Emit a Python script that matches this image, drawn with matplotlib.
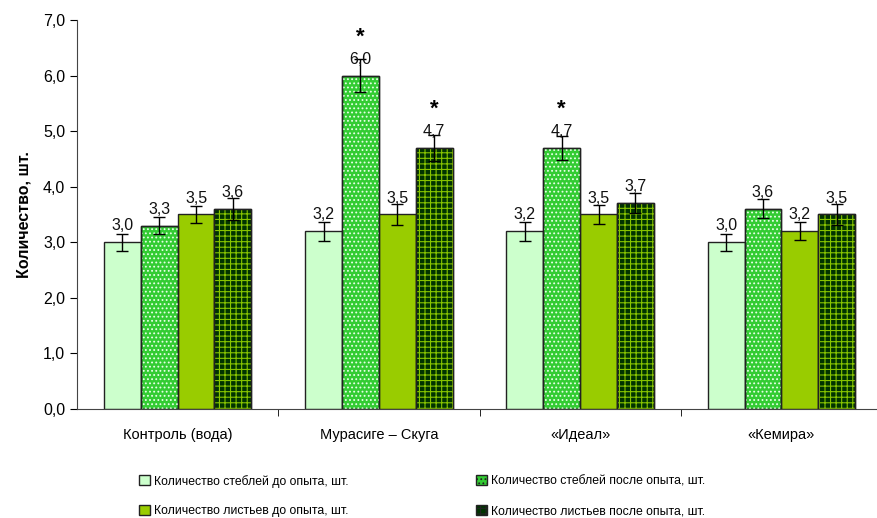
import matplotlib
matplotlib.use('Agg')
import matplotlib.pyplot as plt
import matplotlib.patches as mpatches
import numpy as np

plt.rcParams['font.family'] = ['Liberation Sans', 'DejaVu Sans']
plt.rcParams['hatch.linewidth'] = 0.8

groups = ['Контроль (вода)', 'Мурасиге – Скуга', '«Идеал»', '«Кемира»']
series = ['Количество стеблей до опыта, шт.',
          'Количество стеблей после опыта, шт.',
          'Количество листьев до опыта, шт.',
          'Количество листьев после опыта, шт.']

stems_before = [3.0, 3.2, 3.2, 3.0]
stems_after = [3.3, 6.0, 4.7, 3.6]
leaves_before = [3.5, 3.5, 3.5, 3.2]
leaves_after = [3.6, 4.7, 3.7, 3.5]

err_stems_before = [0.15, 0.17, 0.17, 0.15]
err_stems_after = [0.15, 0.30, 0.22, 0.17]
err_leaves_before = [0.15, 0.18, 0.17, 0.16]
err_leaves_after = [0.20, 0.23, 0.18, 0.18]

# significant differences, marked with an asterisk: (series index, group index)
starred = [(1, 1), (3, 1), (1, 2)]

values = [stems_before, stems_after, leaves_before, leaves_after]
errors = [err_stems_before, err_stems_after, err_leaves_before, err_leaves_after]
faces = ['#CCFFCC', '#33CC33', '#99CC00', '#003300']
hatches = [None, '....', None, '+++']
hatch_cols = [None, '#E8FFE8', None, '#88C400']

fig = plt.figure(figsize=(8.77, 5.18), dpi=100)
ax = fig.add_axes([77 / 877, 109 / 518, 805 / 877, 389 / 518])

x = np.arange(len(groups))
w = 0.183
for i, (vals, errs) in enumerate(zip(values, errors)):
    pos = x + (i - 1.5) * w
    ax.bar(pos, vals, w, color=faces[i], edgecolor='#222222', linewidth=1.0, zorder=2)
    if hatches[i]:
        ax.bar(pos, vals, w, color='none', edgecolor=hatch_cols[i], hatch=hatches[i],
               linewidth=0, zorder=3)
        ax.bar(pos, vals, w, color='none', edgecolor='#222222', linewidth=1.0, zorder=4)
    ax.errorbar(pos, vals, yerr=errs, fmt='none', ecolor='black', elinewidth=1.0,
                capsize=4, capthick=1.0, zorder=5)
    for p, v in zip(pos, vals):
        ax.text(p, v + 0.16, f'{v:.1f}'.replace('.', ','), ha='center', va='bottom',
                fontsize=11.5, color='#111111', zorder=6)

for i, g in starred:
    p = x[g] + (i - 1.5) * w
    ax.text(p, values[i][g] + 0.5, '*', ha='center', va='bottom', fontsize=16,
            fontweight='bold', zorder=6)

ax.set_xlim(-0.5, 3.5)
ax.set_ylim(0, 7)
ax.set_yticks(np.arange(0, 7.01, 1.0))
ax.set_yticklabels([f'{t:.1f}'.replace('.', ',') for t in np.arange(0, 7.01, 1.0)],
                   fontsize=11.5)
ax.set_xticks(x)
ax.set_xticklabels(groups, fontsize=10.5)
ax.tick_params(axis='x', length=0, pad=14)
ax.set_xticks([0.5, 1.5, 2.5], minor=True)
ax.tick_params(axis='x', which='minor', length=5, direction='out')
ax.tick_params(axis='y', length=5, direction='out')
for s in ['top', 'right']:
    ax.spines[s].set_visible(False)
for s in ['left', 'bottom']:
    ax.spines[s].set_color('#444444')
ax.set_ylabel('Количество, шт.', fontsize=11.5, fontweight='bold', labelpad=8)

handles = []
for i in [0, 2, 1, 3]:
    h = mpatches.Patch(facecolor=faces[i], edgecolor='#222222', linewidth=1.0,
                       hatch=hatches[i] if hatches[i] else None, label=series[i])
    handles.append(h)
leg = fig.legend(handles=handles, loc='upper left', bbox_to_anchor=(135 / 877, 1 - 471 / 518),
                 ncol=2, frameon=False, fontsize=8.8, handlelength=0.9, handleheight=0.9,
                 handletextpad=0.35, columnspacing=10.4, labelspacing=1.4,
                 borderaxespad=0, borderpad=0.3)

fig.savefig('out.png', dpi=100)
